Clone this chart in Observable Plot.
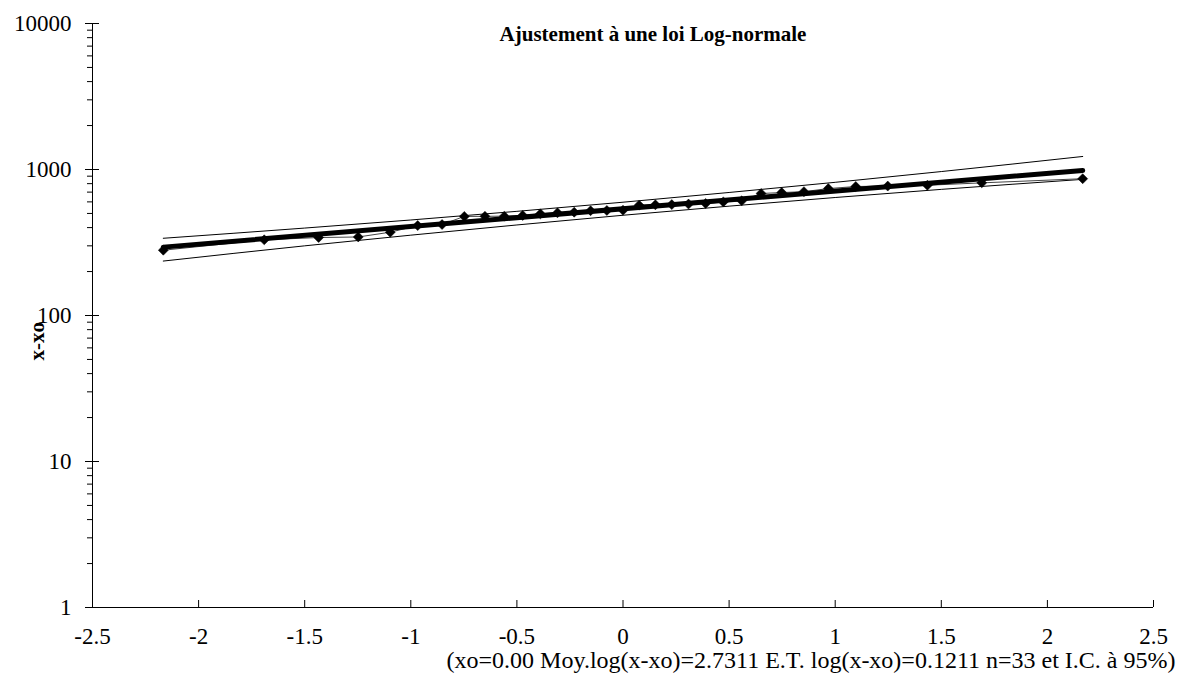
<!DOCTYPE html>
<html><head><meta charset="utf-8">
<script src="https://cdn.jsdelivr.net/npm/d3@7"></script>
<script src="https://cdn.jsdelivr.net/npm/@observablehq/plot@0.6"></script>
<style>
body{margin:0;background:#fff;}
svg{display:block}
svg text{font-family:"Liberation Serif","Times New Roman",serif !important;}
</style>
</head><body><div id="chart"></div>
<script>
const title = "Ajustement à une loi Log-normale";
const yLabel = "x-xo";
const caption = "(xo=0.00 Moy.log(x-xo)=2.7311 E.T. log(x-xo)=0.1211 n=33 et I.C. à 95%)";

// normal scores (x) and observed values (x-xo)
const zScores = [-2.1664, -1.6906, -1.4344, -1.2477, -1.0968, -0.9674, -0.8527, -0.7479, -0.6506, -0.5594, -0.4728,
  -0.3894, -0.3088, -0.2299, -0.1527, -0.0760, 0, 0.0760, 0.1527, 0.2299, 0.3088, 0.3894,
  0.4728, 0.5594, 0.6506, 0.7479, 0.8527, 0.9674, 1.0968, 1.2477, 1.4344, 1.6906, 2.1664];
const values = [280, 330, 342, 345, 372, 413, 420, 477, 478, 479, 485,
  497, 505, 510, 522, 524, 526, 570, 573, 575, 580, 585,
  600, 610, 685, 695, 705, 740, 765, 770, 780, 810, 865];

// fitted line
const fitZ = [-2.1664, 2.1664];
const fitValues = [294, 985];

// 95% confidence band
const bandZ = [-2.1664, -1.5, -1, -0.5, 0, 0.5, 1, 1.5, 2.1664];
const bandUpper = [338, 397, 451, 517, 597, 696, 817, 968, 1228];
const bandLower = [236, 300, 355, 417, 486, 561, 643, 731, 856];

const xTicks = [-2.5, -2, -1.5, -1, -0.5, 0, 0.5, 1, 1.5, 2, 2.5];
const yMajorTicks = [1, 10, 100, 1000, 10000];
const yMinorTicks = [2,3,4,5,6,7,8,9, 20,30,40,50,60,70,80,90, 200,300,400,500,600,700,800,900, 2000,3000,4000,5000,6000,7000,8000,9000];

const points = zScores.map((z, i) => ({z, v: values[i]}));
const fit = fitZ.map((z, i) => ({z, v: fitValues[i]}));
const upper = bandZ.map((z, i) => ({z, v: bandUpper[i]}));
const lower = bandZ.map((z, i) => ({z, v: bandLower[i]}));

const serif = "Liberation Serif";

const chart = Plot.plot({
  width: 1177, height: 673,
  marginLeft: 92, marginRight: 24, marginTop: 23, marginBottom: 66,
  style: {fontFamily: serif, fontSize: "23px", color: "black", background: "white"},
  x: {domain: [-2.5, 2.5]},
  y: {type: "log", domain: [1, 10000]},
  marks: [
    Plot.ruleY([1], {stroke: "black", strokeWidth: 1}),
    Plot.ruleX([-2.5], {stroke: "black", strokeWidth: 1}),
    Plot.axisY(yMajorTicks, {tickSize: 7, tickPadding: 14, tickFormat: d => String(d), label: null, stroke: "black", fill: "black", fontSize: 23, fontFamily: serif}),
    Plot.axisY(yMajorTicks, {tickSize: -7, fill: "none", label: null, stroke: "black"}),
    Plot.axisY(yMinorTicks, {tickSize: 5, fill: "none", label: null, stroke: "black"}),
    Plot.axisX(xTicks, {tickSize: -7, fill: "none", label: null, stroke: "black"}),
    Plot.axisX(xTicks, {tickSize: 0, tickPadding: 20, stroke: "none", fill: "black", tickFormat: d => String(d), label: null, fontSize: 23, fontFamily: serif}),
    Plot.line(upper, {x: "z", y: "v", stroke: "black", strokeWidth: 1, curve: "monotone-x"}),
    Plot.line(lower, {x: "z", y: "v", stroke: "black", strokeWidth: 1, curve: "monotone-x"}),
    Plot.line(points, {x: "z", y: "v", stroke: "#444", strokeWidth: 1}),
    Plot.dot(points, {x: "z", y: "v", symbol: "diamond2", r: 4.5, fill: "black", stroke: "black", strokeWidth: 0.5}),
    Plot.line(fit, {x: "z", y: "v", stroke: "black", strokeWidth: 5, strokeLinecap: "round"}),
    Plot.text([title], {frameAnchor: "top", lineAnchor: "middle", dx: 30, dy: 11, fontWeight: "bold", fontSize: 21, fontFamily: serif, fill: "black"}),
    Plot.text([yLabel], {frameAnchor: "left", lineAnchor: "middle", dx: -55, dy: 45, rotate: -90, fontWeight: "bold", fontSize: 21, fontFamily: serif, fill: "black"}),
    Plot.text([caption], {frameAnchor: "bottom-right", lineAnchor: "middle", dx: 22, dy: 53, textAnchor: "end", fontSize: 24, fontFamily: serif, fill: "black"})
  ]
});
document.getElementById("chart").appendChild(chart);
</script>
</body></html>
